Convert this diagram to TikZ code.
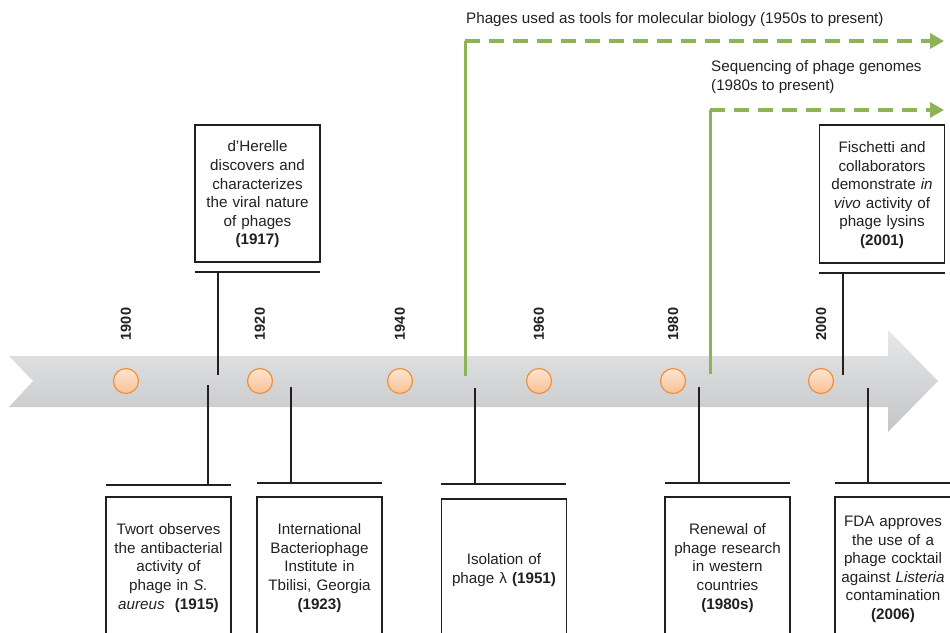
\documentclass[tikz,border=0pt]{standalone}
\usepackage{fontspec}
\setmainfont{Liberation Sans}
\usetikzlibrary{arrows.meta}
\definecolor{ink}{HTML}{231F20}
\definecolor{grn}{HTML}{8CB356}
\definecolor{orb}{HTML}{F0913E}
\definecolor{orl}{HTML}{FDE5D0}
\definecolor{ord}{HTML}{F9C096}
\definecolor{gtop}{HTML}{E6E7E8}
\definecolor{gbot}{HTML}{C4C5C7}
\begin{document}
\begin{tikzpicture}[x=1pt,y=-1pt,
  font=\fontsize{15.2}{18.6}\selectfont,
  evbox/.style={draw=ink, line width=1.8pt, minimum width=125pt, text width=124pt,
    align=center, inner sep=0pt, text=ink},
  conn/.style={draw=ink, line width=1.8pt},
  gline/.style={draw=grn, line width=3pt},
  gdash/.style={draw=grn, line width=3.2pt, dash pattern=on 15pt off 9pt,
    -{Triangle[length=14pt,width=15pt]}},
  yearlbl/.style={rotate=90, font=\fontsize{14.5}{16}\selectfont\bfseries, text=ink, inner sep=0pt},
  dot/.style={circle, draw=orb, line width=1.2pt, minimum size=25pt, inner sep=0pt,
    top color=orl, bottom color=ord},
  gtext/.style={anchor=west, align=left, text=ink, inner sep=0pt}
]
\useasboundingbox (0,0) rectangle (950,632);
\begin{scope}
\clip (0,0) rectangle (950,632);

% main arrow
\shade[top color=gtop, bottom color=gbot]
  (9,356) -- (888,356) -- (888,330) -- (938,381) -- (888,432) -- (888,407)
  -- (9,407) -- (33,381) -- cycle;

% year dots and labels
\foreach \x/\yr/\nm in {126/1900/a,260/1920/b,400/1940/c,539/1960/d,673/1980/e,821/2000/f}{
  \node[dot] (dot\nm) at (\x,381) {};
  \node[yearlbl] (yr\nm) at (\x,324) {\yr};
}

% green timelines
\coordinate (g1a) at (465,376);
\coordinate (g1b) at (465,41);
\coordinate (g1c) at (944,41);
\draw[gline] (g1a) -- (g1b);
\draw[gdash] (g1b) -- (g1c);
\node[gtext] (g1t) at (466,20) {Phages used as tools for molecular biology (1950s to present)};

\coordinate (g2a) at (710,374);
\coordinate (g2b) at (710,110);
\coordinate (g2c) at (944,110);
\draw[gline] (g2a) -- (g2b);
\draw[gdash] (g2b) -- (g2c);
\node[gtext] (g2t) at (711,77) {Sequencing of phage genomes\\(1980s to present)};

% top events
\node[evbox, minimum height=137pt] (herelle) at (257.5,193.5)
  {\strut d'Herelle\\discovers and\\characterizes\\the viral nature\\of phages\\\textbf{(1917)}};
\coordinate (h1) at (218,375);
\coordinate (h2) at (218,272);
\coordinate (hl) at (195,272);
\coordinate (hr) at (320,272);
\draw[conn] (h1) -- (h2);
\draw[conn] (hl) -- (hr);

\node[evbox, minimum height=138pt] (fisch) at (882,194)
  {\strut Fischetti and\\collaborators\\demonstrate \textit{in}\\\textit{vivo} activity of\\phage lysins\\\textbf{(2001)}};
\coordinate (f1) at (843,375);
\coordinate (f2) at (843,273);
\coordinate (fl) at (819,273);
\coordinate (fr) at (945,273);
\draw[conn] (f1) -- (f2);
\draw[conn] (fl) -- (fr);

% bottom events
\node[evbox, minimum height=140pt] (twort) at (168.5,567)
  {\strut Twort observes\\the antibacterial\\activity of\\phage in \textit{S.}\\\textit{aureus}\ \ \textbf{(1915)}};
\coordinate (t1) at (208,385);
\coordinate (t2) at (208,485);
\coordinate (tl) at (106,485);
\coordinate (tr) at (231,485);
\draw[conn] (t1) -- (t2);
\draw[conn] (tl) -- (tr);

\node[evbox, minimum height=140pt] (inst) at (319.5,567)
  {\strut International\\Bacteriophage\\Institute in\\Tbilisi, Georgia\\\textbf{(1923)}};
\coordinate (i1) at (291,387);
\coordinate (i2) at (291,483);
\coordinate (il) at (257,483);
\coordinate (ir) at (382,483);
\draw[conn] (i1) -- (i2);
\draw[conn] (il) -- (ir);

\node[evbox, minimum height=140pt] (lambda) at (504,569)
  {\strut Isolation of\\phage λ \textbf{(1951)}};
\coordinate (l1) at (475,388);
\coordinate (l2) at (475,484);
\coordinate (ll) at (441,484);
\coordinate (lr) at (566,484);
\draw[conn] (l1) -- (l2);
\draw[conn] (ll) -- (lr);

\node[evbox, minimum height=140pt] (renew) at (727.5,567)
  {\strut Renewal of\\phage research\\in western\\countries\\\textbf{(1980s)}};
\coordinate (r1) at (699,387);
\coordinate (r2) at (699,483);
\coordinate (rl) at (665,483);
\coordinate (rr) at (790,483);
\draw[conn] (r1) -- (r2);
\draw[conn] (rl) -- (rr);

\node[evbox, minimum height=140pt, text width=0pt] (fda) at (897.5,567) {};
\node[align=center, text width=124pt, inner sep=0pt, text=ink] (fdat) at (893,568)
  {\strut FDA approves\\the use of a\\phage cocktail\\against \textit{Listeria}\\contamination\\\textbf{(2006)}};
\coordinate (d1) at (868,388);
\coordinate (d2) at (868,483);
\coordinate (dl) at (835,483);
\coordinate (dr) at (960,483);
\draw[conn] (d1) -- (d2);
\draw[conn] (dl) -- (dr);
\end{scope}
\end{tikzpicture}
\end{document}
